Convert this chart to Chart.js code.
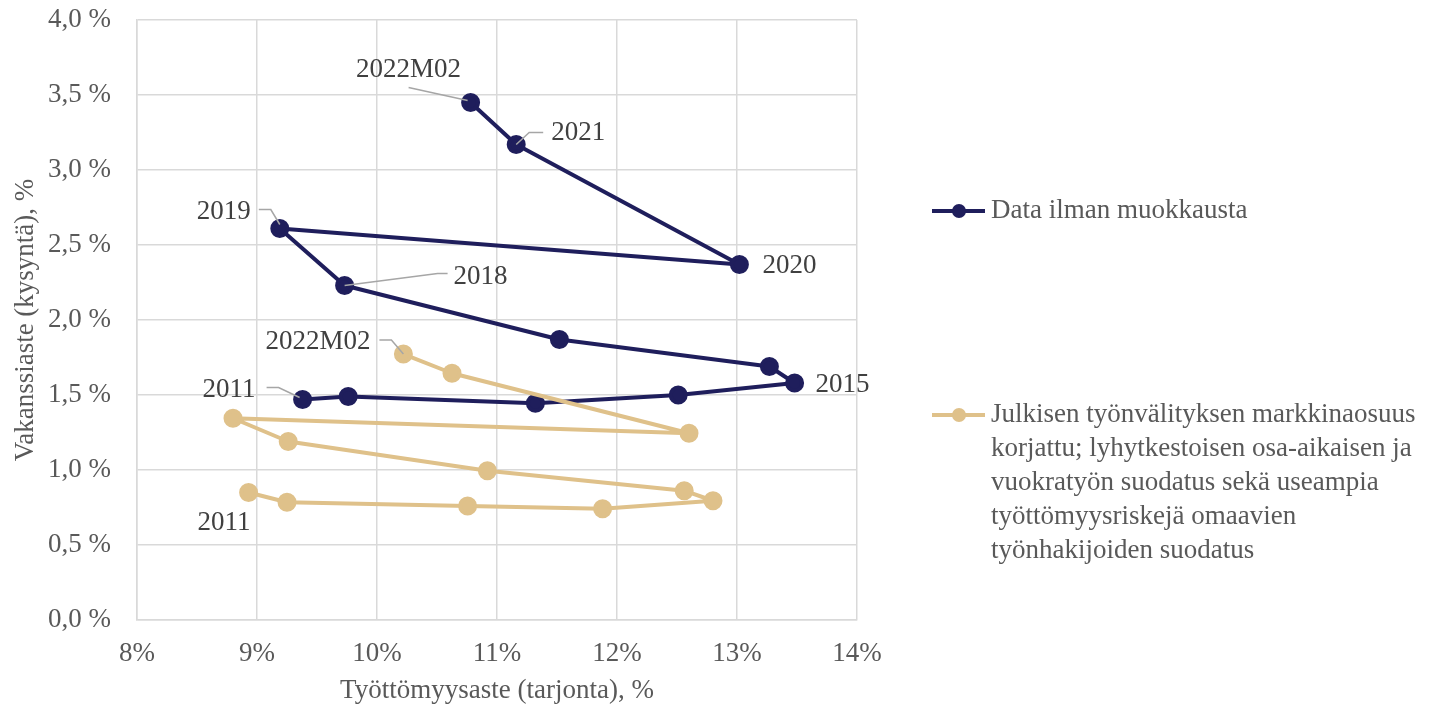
<!DOCTYPE html>
<html>
<head>
<meta charset="utf-8">
<script src="https://cdn.jsdelivr.net/npm/chart.js@4.4.0/dist/chart.umd.min.js"></script>
<style>
  body { margin: 0; background: #ffffff; }
</style>
</head>
<body>
<canvas id="beveridgeChart" width="1433" height="707"></canvas>
<script>
// Vuodet (havainnot)
const vuodet = ['2011', '2012', '2013', '2014', '2015', '2016', '2017', '2018', '2019', '2020', '2021', '2022M02'];

// Data ilman muokkausta
const tyottomyysRaaka = [9.38, 9.76, 11.32, 12.51, 13.48, 13.27, 11.52, 9.73, 9.19, 13.02, 11.16, 10.78];
const vakanssiRaaka = [1.47, 1.49, 1.445, 1.50, 1.58, 1.69, 1.87, 2.23, 2.61, 2.37, 3.17, 3.45];

// Korjattu sarja
const tyottomyysKorj = [8.93, 9.25, 10.755, 11.88, 12.80, 12.56, 10.92, 9.26, 8.80, 12.60, 10.625, 10.22];
const vakanssiKorj = [0.85, 0.785, 0.76, 0.742, 0.795, 0.862, 0.995, 1.19, 1.345, 1.245, 1.645, 1.773];

const sarjaNimet = [
  ['Data ilman muokkausta'],
  ['Julkisen työnvälityksen markkinaosuus', 'korjattu; lyhytkestoisen osa-aikaisen ja', 'vuokratyön suodatus sekä useampia', 'työttömyysriskejä omaavien', 'työnhakijoiden suodatus']
];

const xTicks = [8, 9, 10, 11, 12, 13, 14];
const yTicks = [0, 0.5, 1, 1.5, 2, 2.5, 3, 3.5, 4];

const tummaVari = '#1F1E5C';
const vaaleaVari = '#DFC18A';
const fontti = '"Liberation Serif", "Times New Roman", serif';

// Pisteiden nimiöt: indeksi, teksti, siirtymä pisteestä ja ohjausviiva
const nimiot = [
  { sarja: 0, i: 0, dx: -47, dy: -10, align: 'right', viiva: [[-36, -12], [-24, -12], [-3, -2]] },
  { sarja: 0, i: 4, dx: 21, dy: 2, align: 'left' },
  { sarja: 0, i: 7, dx: 109, dy: -9, align: 'left', viiva: [[0, 0], [93, -12], [103, -12]] },
  { sarja: 0, i: 8, dx: -29, dy: -17, align: 'right', viiva: [[-21, -19], [-9, -19], [0, -4]] },
  { sarja: 0, i: 9, dx: 23, dy: 1, align: 'left' },
  { sarja: 0, i: 10, dx: 35, dy: -12, align: 'left', viiva: [[0, 0], [13, -12], [27, -12]] },
  { sarja: 0, i: 11, dx: -62, dy: -33, align: 'center', viiva: [[-62, -15], [-3, -2]] },
  { sarja: 1, i: 0, dx: 2, dy: 30, align: 'right' },
  { sarja: 1, i: 11, dx: -33, dy: -12, align: 'right', viiva: [[-24, -14], [-12, -14], [0, 0]] }
];

const nimiotPlugin = {
  id: 'nimiot',
  afterDatasetsDraw(chart) {
    const ctx = chart.ctx;
    const xs = chart.scales.x;
    const ys = chart.scales.y;
    const sarjat = [[tyottomyysRaaka, vakanssiRaaka], [tyottomyysKorj, vakanssiKorj]];
    ctx.save();
    nimiot.forEach(n => {
      const px = xs.getPixelForValue(sarjat[n.sarja][0][n.i]);
      const py = ys.getPixelForValue(sarjat[n.sarja][1][n.i]);
      if (n.viiva) {
        ctx.beginPath();
        ctx.strokeStyle = '#A6A6A6';
        ctx.lineWidth = 1.5;
        n.viiva.forEach((p, k) => {
          if (k === 0) ctx.moveTo(px + p[0], py + p[1]);
          else ctx.lineTo(px + p[0], py + p[1]);
        });
        ctx.stroke();
      }
      ctx.fillStyle = '#404040';
      ctx.font = '27px ' + fontti;
      ctx.textAlign = n.align;
      ctx.textBaseline = 'middle';
      ctx.fillText(vuodet[n.i], px + n.dx, py + n.dy);
    });
    ctx.restore();
  }
};

// Selite oikealle
const selitePlugin = {
  id: 'selite',
  afterDraw(chart) {
    const ctx = chart.ctx;
    const varit = [tummaVari, vaaleaVari];
    const yAlut = [211, 415];
    ctx.save();
    varit.forEach((vari, s) => {
      const y = yAlut[s];
      ctx.beginPath();
      ctx.strokeStyle = vari;
      ctx.lineWidth = 4;
      ctx.moveTo(932, y);
      ctx.lineTo(985, y);
      ctx.stroke();
      ctx.beginPath();
      ctx.fillStyle = vari;
      ctx.arc(959, y, 7, 0, Math.PI * 2);
      ctx.fill();
      ctx.fillStyle = '#595959';
      ctx.font = '27px ' + fontti;
      ctx.textAlign = 'left';
      ctx.textBaseline = 'middle';
      sarjaNimet[s].forEach((rivi, r) => {
        ctx.fillText(rivi, 991, y + r * 34);
      });
    });
    ctx.restore();
  }
};

const ctx = document.getElementById('beveridgeChart').getContext('2d');
new Chart(ctx, {
  type: 'scatter',
  data: {
    datasets: [
      {
        label: sarjaNimet[0].join(' '),
        data: tyottomyysRaaka.map((x, i) => ({ x: x, y: vakanssiRaaka[i] })),
        showLine: true,
        borderColor: tummaVari,
        backgroundColor: tummaVari,
        borderWidth: 4,
        borderJoinStyle: 'round',
        pointRadius: 7.5,
        pointHoverRadius: 7.5,
        order: 2
      },
      {
        label: sarjaNimet[1].join(' '),
        data: tyottomyysKorj.map((x, i) => ({ x: x, y: vakanssiKorj[i] })),
        showLine: true,
        borderColor: vaaleaVari,
        backgroundColor: vaaleaVari,
        borderWidth: 4,
        borderJoinStyle: 'round',
        pointRadius: 7.5,
        pointHoverRadius: 7.5,
        order: 1
      }
    ]
  },
  options: {
    responsive: false,
    animation: false,
    layout: { padding: { left: 0, top: 20, right: 576, bottom: 0 } },
    plugins: {
      legend: { display: false },
      tooltip: { enabled: false }
    },
    scales: {
      x: {
        type: 'linear',
        min: 8,
        max: 14,
        afterBuildTicks(scale) { scale.ticks = xTicks.map(v => ({ value: v })); },
        afterFit(scale) {
          scale.height = 87;
          scale.paddingLeft = 0;
          scale.paddingRight = 0;
        },
        grid: { color: '#D9D9D9', lineWidth: 1.5, drawTicks: false },
        border: { color: '#D9D9D9', width: 1.5 },
        ticks: {
          padding: 18,
          color: '#595959',
          font: { family: fontti, size: 27 },
          callback: v => v + '%'
        },
        title: {
          display: true,
          text: 'Työttömyysaste (tarjonta), %',
          color: '#595959',
          font: { family: fontti, size: 27 },
          padding: { top: 0, bottom: 0 }
        }
      },
      y: {
        type: 'linear',
        min: 0,
        max: 4,
        afterBuildTicks(scale) { scale.ticks = yTicks.map(v => ({ value: v })); },
        afterFit(scale) {
          scale.width = 137;
          scale.paddingTop = 0;
          scale.paddingBottom = 0;
        },
        grid: { color: '#D9D9D9', lineWidth: 1.5, drawTicks: false },
        border: { color: '#D9D9D9', width: 1.5 },
        ticks: {
          padding: 26,
          color: '#595959',
          font: { family: fontti, size: 27 },
          callback: v => v.toFixed(1).replace('.', ',') + ' %'
        },
        title: {
          display: true,
          text: 'Vakanssiaste (kysyntä), %',
          color: '#595959',
          font: { family: fontti, size: 27 },
          padding: { top: 10, bottom: 0 }
        }
      }
    }
  },
  plugins: [nimiotPlugin, selitePlugin]
});
</script>
</body>
</html>
